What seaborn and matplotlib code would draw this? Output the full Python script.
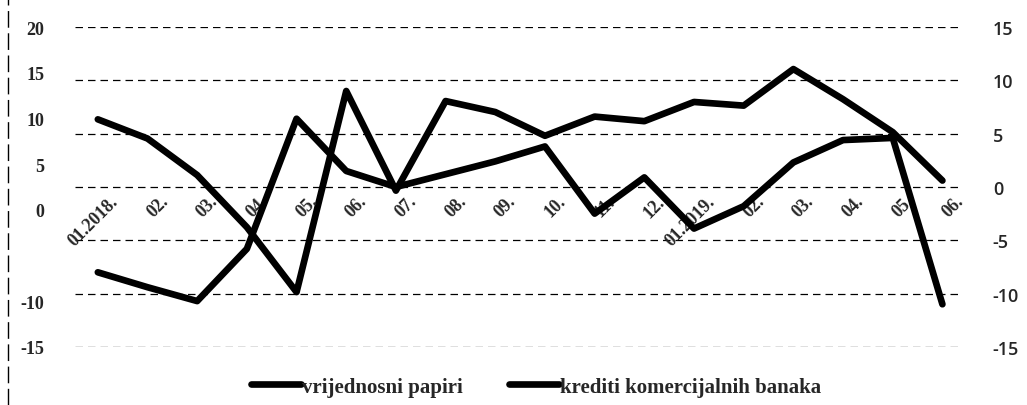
import matplotlib
matplotlib.use("Agg")
import matplotlib.pyplot as plt
import seaborn as sns
import pandas as pd
from matplotlib.lines import Line2D

# mjeseci
months = ["01.2018.", "02.", "03.", "04.", "05.", "06.", "07.", "08.", "09.",
          "10.", "11.", "12.", "01.2019.", "02.", "03.", "04.", "05.", "06."]

# vrijednosni papiri (lijeva osa)
papiri = [9.9, 7.8, 3.8, -1.9, -9.0, 13.0, 2.1, 11.9, 10.7,
          8.1, 10.2, 9.7, 11.8, 11.4, 15.4, 12.1, 8.5, 3.2]

# krediti komercijalnih banaka (desna osa)
krediti = [-8.0, -9.4, -10.7, -5.8, 6.4, 1.5, 0.0, 1.2, 2.4,
           3.8, -2.5, 0.9, -3.9, -1.8, 2.3, 4.4, 4.6, -11.0]

left_ticks = [-15, -10, 0, 5, 10, 15, 20]
right_ticks = [-15, -10, -5, 0, 5, 10, 15]

df = pd.DataFrame({"x": range(len(months)), "papiri": papiri, "krediti": krediti})

sns.set_style("white")
plt.rcParams['font.family'] = ['Liberation Serif', 'DejaVu Serif']

fig = plt.figure(figsize=(10.27, 4.06), dpi=100)
ax = fig.add_axes([0.073, 0.143, 0.864, 0.788])
ax2 = ax.twinx()

line_kw = dict(color="black", linewidth=4.8, solid_capstyle="round", solid_joinstyle="round")
sns.lineplot(data=df, x="x", y="papiri", ax=ax, legend=False, **line_kw)
sns.lineplot(data=df, x="x", y="krediti", ax=ax2, legend=False, **line_kw)

ax.set_xlim(-0.46, 17.4)
ax.set_ylim(-15, 20)
ax2.set_ylim(-15, 15)

# isprekidana mreza
for v in right_ticks:
    ax2.axhline(v, color="black", linewidth=0.9, linestyle=(0, (6, 4)), zorder=0)

for a in (ax, ax2):
    for s in a.spines.values():
        s.set_visible(False)
    a.set_xlabel("")
    a.set_ylabel("")

ax.set_yticks(left_ticks)
ax.set_yticklabels([str(t) for t in left_ticks], fontsize=13, fontweight="bold")
ax.tick_params(axis="y", length=0, pad=22)
ax.tick_params(axis="x", labelbottom=False, length=0)

ax2.set_yticks(right_ticks)
ax2.set_yticklabels([str(t) for t in right_ticks], fontsize=13, family="Open Sans",
                    fontweight="semibold")
ax2.tick_params(axis="y", length=0, pad=22)

# oznake mjeseci na nultoj liniji desne ose
ax2.xaxis.set_visible(True)
ax2.spines["bottom"].set_position(("data", 0))
ax2.set_xticks(range(len(months)))
ax2.set_xticklabels(months, rotation=45, ha="right", rotation_mode="anchor",
                    fontsize=13, fontweight="bold")
ax2.tick_params(axis="x", length=0, pad=4, labelbottom=True)
for lbl in ax2.get_xticklabels():
    lbl.set_transform(lbl.get_transform() + matplotlib.transforms.ScaledTranslation(0.12, 0, fig.dpi_scale_trans))

handles = [Line2D([], [], color="black", linewidth=4.8),
           Line2D([], [], color="black", linewidth=4.8)]
fig.legend(handles, ["vrijednosni papiri", "krediti komercijalnih banaka"],
           loc="center", bbox_to_anchor=(0.522, 0.045), ncol=2, frameon=False,
           prop={"size": 15, "weight": "bold"}, handlelength=2.4,
           handletextpad=0.05, columnspacing=2.2)

# rub skena lijevo
fig.add_artist(Line2D([8 / 1027, 8 / 1027], [0, 1], color="black", linewidth=1,
                      linestyle=(0, (12, 4))))

fig.savefig("out.png", dpi=100)
